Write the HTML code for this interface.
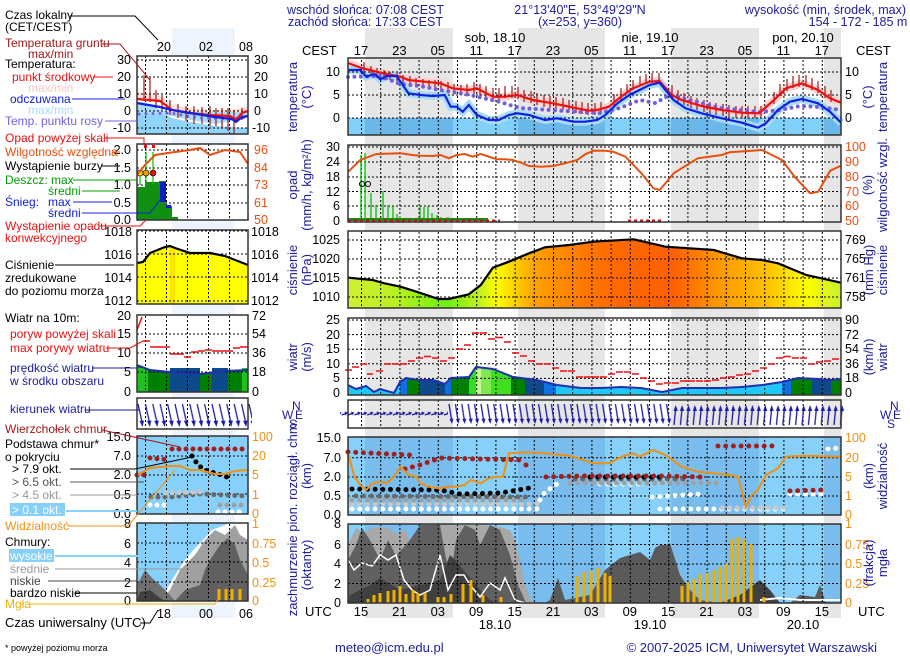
<!DOCTYPE html>
<html><head><meta charset="utf-8"><style>
body{margin:0;background:#fff}
svg{display:block;font-family:"Liberation Sans",sans-serif}
.b{fill:#1c1c9c}
</style></head><body>
<svg width="910" height="660" viewBox="0 0 910 660" xmlns="http://www.w3.org/2000/svg">
<defs>
<pattern id="vg" patternUnits="userSpaceOnUse" x="361" y="0" width="19.2" height="4"><rect x="0" y="0" width="1" height="2" fill="#000"/></pattern>
<pattern id="vgm" patternUnits="userSpaceOnUse" x="145" y="0" width="21" height="4"><rect x="0" y="0" width="1" height="2" fill="#000"/></pattern>
<pattern id="we" patternUnits="userSpaceOnUse" x="348" y="400" width="6.4" height="28"><path d="M0 15 L5.5 13" stroke="#1c1ca8" stroke-width="1.3"/><path d="M6.4 12.5 L3 11.5 L4 15.5Z" fill="#1c1ca8"/></pattern>
<pattern id="ws" patternUnits="userSpaceOnUse" x="448" y="400" width="6.4" height="28"><path d="M1 4 L3.5 20" stroke="#1c1ca8" stroke-width="1.3"/><path d="M4 24 L1.5 19 L5.5 18.5Z" fill="#1c1ca8"/></pattern>
<pattern id="wn" patternUnits="userSpaceOnUse" x="672" y="400" width="6.4" height="28"><path d="M2 25 L3.5 10" stroke="#1c1ca8" stroke-width="1.3"/><path d="M3.7 5 L1.5 11 L5.8 11Z" fill="#1c1ca8"/></pattern>
<pattern id="wm" patternUnits="userSpaceOnUse" x="137" y="398" width="7.4" height="31"><path d="M1 6 L5 24" stroke="#1c1ca8" stroke-width="1.3"/><path d="M5.5 29 L2.5 23 L7 22.5Z" fill="#1c1ca8"/></pattern>
<linearGradient id="pg" x1="348" x2="841" y1="0" y2="0" gradientUnits="userSpaceOnUse">
<stop offset="0" stop-color="#d0f030"/><stop offset="0.1" stop-color="#b8f020"/><stop offset="0.2" stop-color="#70f010"/><stop offset="0.27" stop-color="#c8f020"/><stop offset="0.3" stop-color="#ffff00"/><stop offset="0.38" stop-color="#ffa000"/><stop offset="0.48" stop-color="#ff7800"/><stop offset="0.55" stop-color="#ff6800"/><stop offset="0.66" stop-color="#ff6000"/><stop offset="0.75" stop-color="#ff9800"/><stop offset="0.85" stop-color="#ffc000"/><stop offset="0.93" stop-color="#ffff00"/><stop offset="1" stop-color="#c8f030"/>
</linearGradient>
<clipPath id="wclip"><polygon points="348,395 348,385 356,389 366,386 374,392 380,389 394,393 400,382 406,378 419,380 433,380 445,384 451,378 469,377 476,367 493,369 513,377 537,380 557,385 581,388 601,388 621,387 641,388 662,392 682,388 702,388 722,388 742,387 762,385 782,382 798,378 818,379 830,380 841,379 841,395"/></clipPath>
</defs>

<g fill="#e6e6e6"><rect x="365" y="28" width="88" height="590"/><rect x="518" y="28" width="87" height="590"/><rect x="671" y="28" width="88" height="590"/><rect x="824" y="28" width="17" height="590"/></g>
<rect x="172" y="28" width="63" height="590" fill="#eef4fd"/>

<g class="b" font-size="12.5">
<text x="287" y="14">wschód słońca: 07:08 CEST</text>
<text x="288" y="26">zachód słońca: 17:33 CEST</text>
<text x="580" y="14" text-anchor="middle">21°13'40"E, 53°49'29"N</text>
<text x="580" y="26" text-anchor="middle">(x=253,  y=360)</text>
<text x="906" y="14" text-anchor="end">wysokość (min, środek, max)</text>
<text x="858" y="26" text-anchor="middle">154 - 172 - 185 m</text>
</g>
<g font-size="13" fill="#000">
<text x="495" y="42" text-anchor="middle">sob, 18.10</text>
<text x="650" y="42" text-anchor="middle">nie, 19.10</text>
<text x="803" y="42" text-anchor="middle">pon, 20.10</text>
<text x="302" y="55">CEST</text><text x="856" y="55">CEST</text>
<g text-anchor="middle">
<text x="361" y="55">17</text><text x="399.4" y="55">23</text><text x="437.8" y="55">05</text><text x="476.2" y="55">11</text><text x="514.6" y="55">17</text><text x="553" y="55">23</text><text x="591.4" y="55">05</text><text x="629.8" y="55">11</text><text x="668.2" y="55">17</text><text x="706.6" y="55">23</text><text x="745" y="55">05</text><text x="783.4" y="55">11</text><text x="821.8" y="55">17</text>
<text x="361" y="616">15</text><text x="399.4" y="616">21</text><text x="437.8" y="616">03</text><text x="476.2" y="616">09</text><text x="514.6" y="616">15</text><text x="553" y="616">21</text><text x="591.4" y="616">03</text><text x="629.8" y="616">09</text><text x="668.2" y="616">15</text><text x="706.6" y="616">21</text><text x="745" y="616">03</text><text x="783.4" y="616">09</text><text x="821.8" y="616">15</text>
<text x="495" y="629">18.10</text><text x="650" y="629">19.10</text><text x="803" y="629">20.10</text>
</g>
<text x="305" y="616">UTC</text><text x="858" y="616">UTC</text>
</g>

<!-- TEMP -->
<rect x="348" y="58" width="493" height="77" fill="#fff"/>
<g fill="#e6e6e6"><rect x="365" y="58" width="88" height="77"/><rect x="518" y="58" width="87" height="77"/><rect x="671" y="58" width="88" height="77"/><rect x="824" y="58" width="17" height="77"/></g>
<rect x="348" y="118" width="493" height="17" fill="#80d0fa"/>
<g fill="#6ab8ea"><rect x="365" y="118" width="88" height="17"/><rect x="518" y="118" width="87" height="17"/><rect x="671" y="118" width="88" height="17"/><rect x="824" y="118" width="17" height="17"/></g>
<polyline fill="none" stroke="#fcd2d2" stroke-width="8" points="348,63 361.5,68 380.4,72.7 400.5,76.7 408.5,80 424.6,81.7 440.6,83.3 452.7,88.3 468.8,90 476.8,88.3 492.9,96.7 504.9,96.7 517,95 533,100 553,103.3 569,106.7 589,110.7 597,110 609,106.7 621,96.7 633,88.3 649.5,81.7 659.5,81 671.6,95 681.6,100 701.7,106 721.7,110 741.8,112.7 759,113.3 774,100 786,88.3 802,83.3 818,90 830,98.3 841,102.7"/>
<polyline fill="none" stroke="#a8dcfa" stroke-width="8" points="348.3,70 360.3,70 366.3,76.7 374.4,74 380.4,79.3 386.4,76 396.5,76 408.5,93.3 420.6,95 432.6,96 444.7,95 450.7,106.7 456.7,106.7 462.7,111.7 468.8,105 476.8,115 488.8,120 498.9,120 508.9,115 517,113.3 529,115 545,120 557,118.3 573.2,121.7 585.2,121.7 597.3,120 605.3,115 617.3,103.3 629.4,95 649.5,85 659.5,82.7 673.6,100 685.6,108.3 701.7,113.3 721.8,118.3 741.8,122.7 757.9,127.7 765.9,123.3 778,110 790,101.7 802,99 818,103.3 830,111.7 841,122.7"/>
<rect x="348" y="58" width="493" height="77" fill="url(#vg)"/>
<g stroke="#000" stroke-dasharray="2,2" stroke-width="1"><line x1="348" y1="72" x2="841" y2="72"/><line x1="348" y1="95" x2="841" y2="95"/><line x1="348" y1="118" x2="841" y2="118"/></g>
<path stroke="#a01818" stroke-width="1.2" fill="none" d="M364 62v10M371 66v10M377 68v10M384 70v10M390 72v8M397 73v8M403 75v8M410 76v8M416 78v8M423 79v8M429 80v8M435 80v8M441 81v8M448 82v10M454 84v10M461 85v10M467 84v10M474 82v12M480 84v12M486 86v12M493 88v12M499 88v12M505 86v12M512 86v12M518 87v12M524 90v12M531 91v12M537 93v12M544 95v12M550 96v12M556 97v12M563 98v12M569 100v12M576 101v12M582 102v12M588 103v12M595 103v12M601 102v12M614 94v12M621 88v12M627 84v10M633 80v10M640 76v10M646 74v10M652 73v10M659 73v10M672 85v12M678 90v12M684 93v12M691 96v12M697 98v12M704 100v12M710 102v12M716 103v12M723 104v12M729 105v12M736 106v12M742 106v12M748 106v12M755 106v12M761 106v12M774 92v12M780 84v12M787 79v12M793 76v12M799 75v12M806 75v12M812 78v12M818 81v12M825 86v12M831 90v12"/>
<polyline fill="none" stroke="#7060e0" stroke-width="4" stroke-linecap="round" stroke-dasharray="0 6.4" points="348,77 380,76 400,84 420,86 440,90 470,95 500,102 520,108 550,110 580,112 600,113 620,108 640,100 655,103 670,95 690,100 720,108 760,112 780,110 800,106 820,107 841,110"/>
<polyline fill="none" stroke="#ee1010" stroke-width="2.2" points="348,63 361.5,68 380.4,72.7 400.5,76.7 408.5,80 424.6,81.7 440.6,83.3 452.7,88.3 468.8,90 476.8,88.3 492.9,96.7 504.9,96.7 517,95 533,100 553,103.3 569,106.7 589,110.7 597,110 609,106.7 621,96.7 633,88.3 649.5,81.7 659.5,81 671.6,95 681.6,100 701.7,106 721.7,110 741.8,112.7 759,113.3 774,100 786,88.3 802,83.3 818,90 830,98.3 841,102.7"/>
<polyline fill="none" stroke="#1020e0" stroke-width="2.2" points="348.3,70 360.3,70 366.3,76.7 374.4,74 380.4,79.3 386.4,76 396.5,76 408.5,93.3 420.6,95 432.6,96 444.7,95 450.7,106.7 456.7,106.7 462.7,111.7 468.8,105 476.8,115 488.8,120 498.9,120 508.9,115 517,113.3 529,115 545,120 557,118.3 573.2,121.7 585.2,121.7 597.3,120 605.3,115 617.3,103.3 629.4,95 649.5,85 659.5,82.7 673.6,100 685.6,108.3 701.7,113.3 721.8,118.3 741.8,122.7 757.9,127.7 765.9,123.3 778,110 790,101.7 802,99 818,103.3 830,111.7 841,122.7"/>
<rect x="348" y="58" width="493" height="77" fill="none" stroke="#333" stroke-width="1.5"/>
<g font-size="12.5" fill="#000"><text x="340" y="76" text-anchor="end">10</text><text x="340" y="99" text-anchor="end">5</text><text x="340" y="122" text-anchor="end">0</text><text x="845" y="76">10</text><text x="845" y="99">5</text><text x="845" y="122">0</text></g>

<!-- PRECIP -->
<rect x="348" y="145" width="493" height="77" fill="#fff"/>
<g fill="#e6e6e6"><rect x="365" y="145" width="88" height="77"/><rect x="518" y="145" width="87" height="77"/><rect x="671" y="145" width="88" height="77"/><rect x="824" y="145" width="17" height="77"/></g>
<rect x="348" y="145" width="493" height="77" fill="url(#vg)"/>
<g stroke="#000" stroke-dasharray="2,2"><line x1="348" y1="147" x2="841" y2="147"/><line x1="348" y1="162" x2="841" y2="162"/><line x1="348" y1="177" x2="841" y2="177"/><line x1="348" y1="191.5" x2="841" y2="191.5"/><line x1="348" y1="206" x2="841" y2="206"/></g>
<path stroke="#00c000" stroke-width="1.3" d="M361 221V155M365 221V153M371 221V193M376 221V205M383 221V191M388 221V205M393 221V206M397 221V214M400 221V216M407 221V219M420 221V206M424 221V207M428 221V206M432 221V213M437 221V215M441 221V217M448 221V217M452 221V218M456 221V218M460 221V218M465 221V219M470 221V219M475 221V219"/>
<rect x="348" y="218" width="140" height="3" fill="#109010"/>
<polyline fill="none" stroke="#d01010" stroke-width="3" stroke-dasharray="3 3" points="348,221 500,221"/>
<polyline fill="none" stroke="#d01010" stroke-width="3" stroke-dasharray="3 3" points="628,221 662,221"/>
<circle cx="362" cy="184" r="2.5" fill="none" stroke="#000"/><circle cx="368" cy="184" r="2.5" fill="none" stroke="#000"/>
<polyline fill="none" stroke="#e85010" stroke-width="2" points="348.3,171.7 360.3,160 376.4,154 400.5,153.3 412.5,155 420.6,155.7 432.6,156 440.6,155 448.7,158.3 456.7,155 464.7,154 472.8,156.7 480.8,154 488.8,156.7 496.9,159.3 504.9,159.3 512.9,160 521,162.7 529,166 541,166.7 553.1,166 565.1,163.3 577.2,160 585.2,154.3 593.3,150.7 605.3,150.7 613.3,151.7 625.4,156.7 641.4,173.3 653.5,188.3 659.5,190 665.5,183.3 673.6,173.3 697.7,158.3 721.7,155 729.8,152.3 761.9,150 782,160 794.5,176.7 810.1,193.3 818.2,191.7 830.2,170.7 841,165.7"/>
<rect x="348" y="145" width="493" height="77" fill="none" stroke="#333" stroke-width="1.5"/>
<g font-size="12.5"><g fill="#000" text-anchor="end"><text x="340" y="151">30</text><text x="340" y="166">24</text><text x="340" y="181">18</text><text x="340" y="196">12</text><text x="340" y="210">6</text><text x="340" y="225">0</text></g>
<g fill="#e85010"><text x="845" y="151">100</text><text x="845" y="166">90</text><text x="845" y="181">80</text><text x="845" y="196">70</text><text x="845" y="210">60</text><text x="845" y="225">50</text></g></g>

<!-- PRESSURE -->
<rect x="348" y="231" width="493" height="77" fill="#fff"/>
<polygon fill="url(#pg)" points="348,308 348.3,277.7 372.4,280 384.4,283.3 400.5,286.7 416.5,291.7 438.6,299 448.7,299 468.8,294.3 480.8,285 492.9,267.7 508.9,261.7 529,253.3 545,247.3 569.2,245 593.3,241.7 633.4,239.3 665.5,246.7 689.6,248.3 713.7,250 741.8,258.3 761.9,260 778,263.3 806.1,275 841,282.7 841,308"/>
<rect x="348" y="231" width="493" height="77" fill="url(#vg)"/>
<g stroke="#000" stroke-dasharray="2,2"><line x1="348" y1="240" x2="841" y2="240"/><line x1="348" y1="259" x2="841" y2="259"/><line x1="348" y1="278" x2="841" y2="278"/><line x1="348" y1="297" x2="841" y2="297"/></g>
<polyline fill="none" stroke="#000" stroke-width="2.2" points="348.3,277.7 372.4,280 384.4,283.3 400.5,286.7 416.5,291.7 438.6,299 448.7,299 468.8,294.3 480.8,285 492.9,267.7 508.9,261.7 529,253.3 545,247.3 569.2,245 593.3,241.7 633.4,239.3 665.5,246.7 689.6,248.3 713.7,250 741.8,258.3 761.9,260 778,263.3 806.1,275 841,282.7"/>
<rect x="348" y="231" width="493" height="77" fill="none" stroke="#333" stroke-width="1.5"/>
<g font-size="12.5" fill="#000"><g text-anchor="end"><text x="340" y="244">1025</text><text x="340" y="263">1020</text><text x="340" y="282">1015</text><text x="340" y="301">1010</text></g><text x="845" y="244">769</text><text x="845" y="263">765</text><text x="845" y="282">761</text><text x="845" y="301">758</text></g>

<!-- WIND -->
<rect x="348" y="318" width="493" height="77" fill="#fff"/>
<g fill="#e6e6e6"><rect x="365" y="318" width="88" height="77"/><rect x="518" y="318" width="87" height="77"/><rect x="671" y="318" width="88" height="77"/><rect x="824" y="318" width="17" height="77"/></g>
<g clip-path="url(#wclip)"><rect x="348" y="360" width="493" height="35" fill="#20c8f8"/>
<rect x="400" y="360" width="7" height="35" fill="#1070e0"/><rect x="407" y="360" width="12" height="35" fill="#008000"/><rect x="419" y="360" width="26" height="35" fill="#0c4a8c"/><rect x="445" y="360" width="6" height="35" fill="#1070e0"/><rect x="451" y="360" width="18" height="35" fill="#008000"/><rect x="469" y="360" width="7" height="35" fill="#30e020"/><rect x="476" y="360" width="5" height="35" fill="#c8f890"/><rect x="481" y="360" width="10" height="35" fill="#80e850"/><rect x="491" y="360" width="20" height="35" fill="#40e020"/><rect x="511" y="360" width="14" height="35" fill="#008000"/><rect x="525" y="360" width="19" height="35" fill="#0c4a8c"/><rect x="544" y="360" width="12" height="35" fill="#1070e0"/><rect x="782" y="360" width="9" height="35" fill="#1070e0"/><rect x="791" y="360" width="21" height="35" fill="#008000"/><rect x="812" y="360" width="19" height="35" fill="#0c4a8c"/><rect x="831" y="360" width="10" height="35" fill="#008000"/></g>
<rect x="348" y="318" width="493" height="77" fill="url(#vg)"/>
<g stroke="#000" stroke-dasharray="2,2"><line x1="348" y1="320" x2="841" y2="320"/><line x1="348" y1="334.6" x2="841" y2="334.6"/><line x1="348" y1="349.2" x2="841" y2="349.2"/><line x1="348" y1="363.8" x2="841" y2="363.8"/><line x1="348" y1="378.4" x2="841" y2="378.4"/></g>
<polyline fill="none" stroke="#2030b0" stroke-width="2" points="348,385 356,389 366,386 374,392 380,389 394,393 400,382 406,378 419,380 433,380 445,384 451,378 469,377 476,367 493,369 513,377 537,380 557,385 581,388 601,388 621,387 641,388 662,392 682,388 702,388 722,388 742,387 762,385 782,382 798,378 818,379 830,380 841,379"/>
<path stroke="#e81010" stroke-width="1.5" fill="none" d="M345 370h7M352 367h7M360 364h7M367 374h6M376 371h7M384 364h7M392 364h7M400 364h7M408 361h7M416 358h7M424 356.5h7M432 358h7M440 361h7M448 358h7M456 349h7M464 345h7M472 333h7M480 333h7M488 339h7M496 337.5h7M504 342h7M512 353h7M520 356h7M528 361h7M536 364h7M544 364h7M552 368h7M560 371h7M568 371h7M576 377h7M584 377h7M592 377h7M600 377h7M608 374h7M616 372h7M624 372h7M632 374h7M640 378h7M648 381h7M656 384h7M664 383h7M672 383h7M680 381h7M688 381h7M696 381h7M704 381h7M712 380h7M720 378h7M728 377h7M736 375h7M744 374h7M752 371h7M760 368h7M768 364h7M776 358h7M784 356.5h7M792 358h7M800 358h7M808 364h7M816 362h7M824 361h7M832 359h7"/>
<rect x="348" y="318" width="493" height="77" fill="none" stroke="#333" stroke-width="1.5"/>
<g font-size="12.5" fill="#000"><g text-anchor="end"><text x="340" y="324">25</text><text x="340" y="339">20</text><text x="340" y="353">15</text><text x="340" y="368">10</text><text x="340" y="382">5</text><text x="340" y="397">0</text></g><text x="845" y="324">90</text><text x="845" y="339">72</text><text x="845" y="353">54</text><text x="845" y="368">36</text><text x="845" y="382">18</text><text x="845" y="397">0</text></g>

<!-- WIND DIR -->
<rect x="348" y="400" width="493" height="28" fill="#fff"/>
<g fill="#e6e6e6"><rect x="365" y="400" width="88" height="28"/><rect x="518" y="400" width="87" height="28"/><rect x="671" y="400" width="88" height="28"/><rect x="824" y="400" width="17" height="28"/></g>
<rect x="348" y="400" width="493" height="28" fill="url(#vg)"/>
<rect x="340" y="401" width="108" height="26" fill="url(#we)"/>
<rect x="448" y="401" width="224" height="26" fill="url(#ws)"/>
<rect x="672" y="401" width="172" height="26" fill="url(#wn)"/>
<rect x="348" y="400" width="493" height="28" fill="none" stroke="#333" stroke-width="1.5"/>
<g class="b" font-size="12"><text x="282" y="419">W</text><text x="292" y="410">N</text><text x="295" y="419">E</text><text x="289" y="428">S</text><text x="880" y="419">W</text><text x="890" y="410">N</text><text x="893" y="419">E</text><text x="887" y="428">S</text></g>

<!-- CLOUD BASE -->
<rect x="348" y="437" width="493" height="78" fill="#87d0fa"/>
<g fill="#78bdee"><rect x="365" y="437" width="88" height="78"/><rect x="518" y="437" width="87" height="78"/><rect x="671" y="437" width="88" height="78"/><rect x="824" y="437" width="17" height="78"/></g>
<rect x="348" y="437" width="493" height="78" fill="url(#vg)"/>
<g stroke="#000" stroke-dasharray="2,2"><line x1="348" y1="457.7" x2="841" y2="457.7"/><line x1="348" y1="477" x2="841" y2="477"/><line x1="348" y1="496" x2="841" y2="496"/></g>
<g fill="none" stroke-linecap="round" stroke-dasharray="0 7.7" stroke-width="5">
<polyline stroke="#fff" points="352,509 540,509"/>
<polyline stroke="#fff" points="540,500 545,492 560,482"/>
<polyline stroke="#fff" points="600,484 645,484"/>
<polyline stroke="#fff" points="652,497 700,494"/>
<polyline stroke="#fff" points="660,509 790,509"/>
<polyline stroke="#fff" points="790,494 822,494"/>
<polyline stroke="#fff" points="828,449 841,448"/>
<polyline stroke="#c8c8c8" points="352,504 540,504"/>
<polyline stroke="#c8c8c8" points="722,508 790,508"/>
<polyline stroke="#a0a0a0" points="352,500 525,500"/>
<polyline stroke="#a0a0a0" points="570,483 720,483"/>
<polyline stroke="#686868" points="356,496 530,497"/>
<polyline stroke="#686868" points="575,479 690,479"/>
<polyline stroke="#000" points="352,489 440,490 460,494 500,493 530,488"/>
<polyline stroke="#000" points="590,477 660,477"/>
<polyline stroke="#a02020" points="348,452 410,455"/>
<polyline stroke="#a02020" points="405,469 420,465 440,458 520,460"/>
<polyline stroke="#a02020" points="526,465 532,468"/>
<polyline stroke="#a02020" points="546,477 580,476 660,476 700,477"/>
<polyline stroke="#a02020" points="718,446 778,446"/>
<polyline stroke="#a02020" points="790,491 822,490"/>
</g>
<polyline fill="none" stroke="#f09010" stroke-width="2" points="348.3,453.3 354.3,476.7 360.3,485 366.3,490 372.4,483.3 380.4,481.7 386.4,483.3 392.4,478.3 400.5,466.7 408.5,475 416.5,476.7 420.6,483.3 428.6,486.7 438.6,488.3 448.7,486.7 456.7,486.7 464.7,485 470.8,480 480.8,483.3 488.8,478.3 496.9,476.7 502.9,476.7 508.9,453.3 525,452.3 545,453.3 569.2,455.7 593.3,463.3 609.3,463.3 621.4,456.7 633.4,453.3 639.4,456.7 653.5,450 665.5,455 681.6,466.7 697.7,471.7 713.7,473.3 729.8,475 737.8,476.7 745.9,506.7 751.9,495 757.9,490 766,475 778,468.3 786,456.7 802,455.7 841,456.7"/>
<rect x="348" y="437" width="493" height="78" fill="none" stroke="#333" stroke-width="1.5"/>
<g font-size="12.5"><g fill="#000" text-anchor="end"><text x="341" y="442">15.0</text><text x="341" y="462">7.0</text><text x="341" y="481">2.0</text><text x="341" y="500">0.5</text><text x="341" y="519">0.0</text></g>
<g fill="#f09010"><text x="845" y="442">100</text><text x="845" y="462">20</text><text x="845" y="481">5</text><text x="845" y="500">1</text><text x="845" y="519">0</text></g></g>

<!-- CLOUD COVER -->
<rect x="348" y="524" width="493" height="79" fill="#87d0fa"/>
<g fill="#78bdee"><rect x="365" y="524" width="88" height="79"/><rect x="518" y="524" width="87" height="79"/><rect x="671" y="524" width="88" height="79"/><rect x="824" y="524" width="17" height="79"/></g>
<polygon fill="#a8a8a8" points="348,603 348,545 356,528 364,533 372,528 380,527 388,528 396,534 404,529 410,540 420,529 440,525 460,525 480,525 500,527 510,530 515,540 520,560 525,585 532,603"/>
<polygon fill="#606060" points="348,603 348,560 356,545 362,528 370,540 380,560 388,540 396,556 410,540 420,525 440,525 450,580 456,540 465,525 475,530 480,545 490,525 500,530 510,555 518,585 526,603"/>
<polygon fill="#5a5a5a" points="545,603 550,600 558,578 565,600 590,595 605,570 620,558 640,552 650,560 655,548 660,545 666,545 670,543 680,575 690,590 700,600 720,603"/>
<polygon fill="#5a5a5a" points="790,603 800,595 815,597 820,585 826,603"/>
<polygon fill="#404040" points="348,603 350,595 370,585 380,578 400,590 420,585 440,580 450,555 455,560 470,578 480,590 490,600 500,603"/>
<polygon fill="#404040" points="720,603 740,595 760,580 770,590 780,603"/>
<polyline fill="none" stroke="#fff" stroke-width="1.5" points="348,560 354,570 362,563 372,566 380,555 388,560 396,555 404,580 412,590 420,595 430,590 440,555 448,590 456,575 464,575 470,585 480,597 490,583 500,590 505,578 515,600 525,603"/>
<polyline fill="none" stroke="#ffffff" stroke-width="2" points="760,600 780,598 800,600 841,600"/>
<rect x="348" y="524" width="493" height="79" fill="url(#vg)"/>
<g stroke="#000" stroke-dasharray="2,2"><line x1="348" y1="544.5" x2="841" y2="544.5"/><line x1="348" y1="564" x2="841" y2="564"/><line x1="348" y1="583.5" x2="841" y2="583.5"/></g>
<path stroke="#f0b000" stroke-width="3" d="M368 603v-4M374 603v-8M380 603v-10M388 603v-12M394 603v-13M400 603v-17M406 603v-9M413 603v-13M418 603v-10M425 603v-10M438 603v-6M444 603v-6M451 603v-9M463 603v-19M471 603v-23M483 603v-8M501 603v-6M577 603v-27M584 603v-31M591 603v-32M598 603v-35M605 603v-30M610 603v-27M682 603v-17M688 603v-21M694 603v-24M700 603v-29M707 603v-30M714 603v-33M720 603v-36M726 603v-39M732 603v-64M738 603v-66M744 603v-64M751 603v-59M764 603v-6"/>
<rect x="348" y="524" width="493" height="79" fill="none" stroke="#333" stroke-width="1.5"/>
<g font-size="12.5"><g fill="#000" text-anchor="end"><text x="341" y="528">8</text><text x="341" y="549">6</text><text x="341" y="568">4</text><text x="341" y="588">2</text><text x="341" y="607">0</text></g>
<g fill="#f09010"><text x="845" y="528">1</text><text x="845" y="549">0.75</text><text x="845" y="568">0.5</text><text x="845" y="588">0.25</text><text x="845" y="607">0</text></g></g>

<g class="b" font-size="13" text-anchor="middle">
<text transform="translate(297,97) rotate(-90)">temperatura</text><text transform="translate(311,97) rotate(-90)">(°C)</text>
<text transform="translate(872,97) rotate(-90)">(°C)</text><text transform="translate(887,97) rotate(-90)">temperatura</text>
<text transform="translate(297,185) rotate(-90)">opad</text><text transform="translate(311,185) rotate(-90)">(mm/h, kg/m²/h)</text>
<text transform="translate(872,185) rotate(-90)">(%)</text><text transform="translate(887,185) rotate(-90)">wilgotność wzgl.</text>
<text transform="translate(297,270) rotate(-90)">ciśnienie</text><text transform="translate(311,270) rotate(-90)">(hPa)</text>
<text transform="translate(873,270) rotate(-90)">(mm Hg)</text><text transform="translate(887,270) rotate(-90)">ciśnienie</text>
<text transform="translate(297,357) rotate(-90)">wiatr</text><text transform="translate(311,357) rotate(-90)">(m/s)</text>
<text transform="translate(873,357) rotate(-90)">(km/h)</text><text transform="translate(887,357) rotate(-90)">wiatr</text>
<text transform="translate(297,518) rotate(-90)">zachmurzenie  pion. rozciągł. chm.</text>
<text transform="translate(311,476) rotate(-90)">(km)</text><text transform="translate(311,565) rotate(-90)">(oktanty)</text>
<text transform="translate(873,476) rotate(-90)">(km)</text><text transform="translate(887,476) rotate(-90)">widzialność</text>
<text transform="translate(873,563) rotate(-90)">(frakcja)</text><text transform="translate(887,563) rotate(-90)">mgła</text>
</g>

<g class="b" font-size="13"><text x="335" y="652">meteo@icm.edu.pl</text><text x="877" y="652" text-anchor="end">© 2007-2025 ICM, Uniwersytet Warszawski</text></g>
<text x="5" y="651" font-size="9" fill="#000">* powyżej poziomu morza</text>

<!-- LEFT MINI -->
<g font-size="12.5" fill="#000" text-anchor="middle"><text x="164" y="51">20</text><text x="206" y="51">02</text><text x="246" y="51">08</text><text x="164" y="618">18</text><text x="206" y="618">00</text><text x="246" y="618">06</text></g>
<rect x="137" y="56" width="111" height="78" fill="#fff"/>
<polygon fill="#fde0d8" points="137,92 160,96 172,104 190,108 210,110 230,110 248,106 248,111 236,120 230,116 210,115 190,113 172,110 160,101 137,99"/>
<polygon fill="#90d4fa" points="137,112 160,112 172,118 190,122 215,126 248,128 248,134 137,134"/>
<polygon fill="#a8dcfa" points="137,102 150,104 160,110 172,112 248,112 248,118 215,124 190,120 172,116 160,114 137,114"/>
<rect x="137" y="56" width="111" height="78" fill="url(#vgm)"/>
<g stroke="#000" stroke-dasharray="2,2"><line x1="137" y1="60" x2="248" y2="60"/><line x1="137" y1="77" x2="248" y2="77"/><line x1="137" y1="94" x2="248" y2="94"/><line x1="137" y1="111" x2="248" y2="111"/><line x1="137" y1="128" x2="248" y2="128"/></g>
<path stroke="#a01818" stroke-width="1.2" d="M144 75v25M150 78v24M156 90v18M162 95v15M170 100v15M178 104v14M186 106v15M194 106v18M202 107v17M210 106v20M216 108v18M222 108v20M228 108v23M234 110v24M242 108v12"/>
<polyline fill="none" stroke="#7060e0" stroke-width="3" stroke-linecap="round" stroke-dasharray="0 7" points="139,114 170,113 200,118 230,119 248,117"/>
<polyline fill="none" stroke="#ee1010" stroke-width="2.2" points="137,99 160,101 172,110 190,113 210,115 230,116 236,120 242,113 248,111"/>
<polyline fill="none" stroke="#1020e0" stroke-width="2.2" points="137,103 160,107 172,110 190,113 215,117 232,119 236,122 242,117 248,116"/>
<rect x="137" y="56" width="111" height="78" fill="none" stroke="#333" stroke-width="1.5"/>
<g font-size="12.5" fill="#000"><g text-anchor="end"><text x="131" y="64">30</text><text x="131" y="81">20</text><text x="131" y="98">10</text><text x="131" y="115">0</text><text x="131" y="132">-10</text></g><text x="254" y="64">30</text><text x="254" y="81">20</text><text x="254" y="98">10</text><text x="254" y="115">0</text><text x="252" y="132">-10</text></g>
<rect x="137" y="144" width="111" height="76" fill="#fff"/>
<rect x="137" y="144" width="111" height="76" fill="url(#vgm)"/>
<g stroke="#000" stroke-dasharray="2,2"><line x1="137" y1="150" x2="248" y2="150"/><line x1="137" y1="168" x2="248" y2="168"/><line x1="137" y1="185" x2="248" y2="185"/><line x1="137" y1="203" x2="248" y2="203"/></g>
<rect x="137" y="187" width="8" height="33" fill="#109010"/><rect x="145" y="182" width="14" height="38" fill="#109010"/><rect x="159" y="181" width="7" height="39" fill="#109010"/><rect x="166" y="206" width="6" height="14" fill="#109010"/><rect x="172" y="217" width="6" height="3" fill="#109010"/>
<rect x="160" y="182" width="6" height="20" fill="#1020c0"/><rect x="166" y="205" width="5" height="3" fill="#1020c0"/>
<path stroke="#00c000" stroke-width="1.2" d="M146 185V152M153 185V152M140 185V175"/>
<rect x="144" y="145" width="3" height="3" fill="#e01010"/><rect x="152" y="145" width="3" height="3" fill="#e01010"/>
<circle cx="140" cy="173" r="3" fill="#ffd800" stroke="#000" stroke-width=".6"/><circle cx="146" cy="173" r="3" fill="#f0a000" stroke="#000" stroke-width=".6"/><circle cx="153" cy="173" r="3" fill="#e01010" stroke="#000" stroke-width=".6"/>
<polyline fill="none" stroke="#e85010" stroke-width="2" points="137,175 145,165 155,155 175,152 190,150 200,148 210,155 225,150 240,152 248,164"/>
<rect x="137" y="144" width="111" height="76" fill="none" stroke="#333" stroke-width="1.5"/>
<g font-size="12.5"><g fill="#000" text-anchor="end"><text x="131" y="154">2.0</text><text x="131" y="172">1.5</text><text x="131" y="189">1.0</text><text x="131" y="207">0.5</text><text x="131" y="224">0.0</text></g><g fill="#e85010"><text x="254" y="154">96</text><text x="254" y="172">84</text><text x="254" y="189">73</text><text x="254" y="207">61</text><text x="254" y="224">50</text></g></g>
<rect x="137" y="230" width="111" height="74" fill="#fff"/>
<polygon fill="#ffff00" points="137,304 137,263 143,262 150,253 160,249 165,247 170,246 175,248 190,253 210,253 225,256 248,265 248,304"/>
<rect x="170" y="246" width="5" height="58" fill="#ffd000" opacity=".6"/>
<rect x="137" y="230" width="111" height="74" fill="url(#vgm)"/>
<g stroke="#000" stroke-dasharray="2,2"><line x1="137" y1="231" x2="248" y2="231"/><line x1="137" y1="254" x2="248" y2="254"/><line x1="137" y1="277" x2="248" y2="277"/><line x1="137" y1="301" x2="248" y2="301"/></g>
<polyline fill="none" stroke="#000" stroke-width="2.2" points="137,263 143,262 150,253 160,249 165,247 170,246 175,248 190,253 210,253 225,256 248,265"/>
<rect x="137" y="230" width="111" height="74" fill="none" stroke="#333" stroke-width="1.5"/>
<g font-size="12.5" fill="#000"><g text-anchor="end"><text x="132" y="236">1018</text><text x="132" y="259">1016</text><text x="132" y="282">1014</text><text x="132" y="305">1012</text></g><text x="251" y="236">1018</text><text x="251" y="259">1016</text><text x="251" y="282">1014</text><text x="251" y="305">1012</text></g>
<rect x="137" y="315" width="111" height="77" fill="#fff"/>
<polygon fill="#008000" points="137,392 137,365 150,370 180,373 200,374 225,371 248,370 248,392"/>
<rect x="137" y="368" width="11" height="24" fill="#20c020"/><rect x="170" y="368" width="30" height="24" fill="#0c4a8c"/><rect x="212" y="368" width="16" height="24" fill="#0c4a8c"/><rect x="242" y="368" width="6" height="24" fill="#20c020"/>
<rect x="137" y="315" width="111" height="77" fill="url(#vgm)"/>
<g stroke="#000" stroke-dasharray="2,2"><line x1="137" y1="334" x2="248" y2="334"/><line x1="137" y1="353" x2="248" y2="353"/><line x1="137" y1="372" x2="248" y2="372"/></g>
<polyline fill="none" stroke="#2030b0" stroke-width="2" points="137,365 150,370 180,373 200,374 225,371 248,370"/>
<path stroke="#e81010" stroke-width="1.5" fill="none" d="M137 330l5-13M143 341h7M150 347h7M157 347h7M164 347h6M170 354h7M177 354h7M184 357h7M191 352h7M198 351h7M205 350h7M212 351h7M219 351h7M226 351h7M233 348h7M240 347h8"/>
<rect x="137" y="315" width="111" height="77" fill="none" stroke="#333" stroke-width="1.5"/>
<g font-size="12.5" fill="#000"><g text-anchor="end"><text x="131" y="320">20</text><text x="131" y="338">15</text><text x="131" y="357">10</text><text x="131" y="376">5</text><text x="131" y="396">0</text></g><text x="252" y="320">72</text><text x="252" y="338">54</text><text x="252" y="357">36</text><text x="252" y="376">18</text><text x="252" y="396">0</text></g>
<rect x="137" y="398" width="111" height="31" fill="#fff"/>
<rect x="137" y="398" width="111" height="31" fill="url(#vgm)"/>
<rect x="137" y="399" width="115" height="29" fill="url(#wm)"/>
<rect x="137" y="398" width="111" height="31" fill="none" stroke="#333" stroke-width="1.5"/>
<rect x="137" y="436" width="111" height="78" fill="#87d0fa"/>
<rect x="137" y="436" width="111" height="78" fill="url(#vgm)"/>
<g stroke="#000" stroke-dasharray="2,2"><line x1="137" y1="456" x2="248" y2="456"/><line x1="137" y1="475" x2="248" y2="475"/><line x1="137" y1="494" x2="248" y2="494"/></g>
<g fill="none" stroke-linecap="round" stroke-dasharray="0 7" stroke-width="5">
<polyline stroke="#a02020" points="172,449 248,449"/><polyline stroke="#a02020" points="150,458 170,460"/><polyline stroke="#a02020" points="137,475 145,475"/>
<polyline stroke="#000" points="192,456 198,465 205,470 215,473 230,478"/>
<polyline stroke="#686868" points="151,497 170,497 200,494 248,496"/>
<polyline stroke="#c8c8c8" points="165,493 200,492"/><polyline stroke="#a0a0a0" points="220,505 248,505"/>
<polyline stroke="#fff" points="150,505 170,505"/><polyline stroke="#fff" points="218,512 240,512"/>
</g>
<polyline fill="none" stroke="#f09010" stroke-width="2" points="137,475 150,468 170,466 180,466 190,470 200,470 215,474 225,474 235,471 248,470"/>
<rect x="137" y="436" width="111" height="78" fill="none" stroke="#333" stroke-width="1.5"/>
<g font-size="12.5"><g fill="#000" text-anchor="end"><text x="131" y="441">15.0</text><text x="131" y="460">7.0</text><text x="131" y="479">2.0</text><text x="131" y="499">0.5</text><text x="131" y="518">0.0</text></g><g fill="#f09010"><text x="252" y="441">100</text><text x="252" y="460">20</text><text x="252" y="479">5</text><text x="252" y="499">1</text><text x="252" y="518">0</text></g></g>
<rect x="137" y="523" width="111" height="78" fill="#87d0fa"/>
<polygon fill="#ffffff" points="160,601 175,575 185,560 195,548 205,538 212,530 230,523 248,523 248,601"/>
<polygon fill="#a0a0a0" points="160,601 170,590 180,570 195,555 205,540 215,530 225,535 235,525 240,535 248,540 248,601"/>
<polygon fill="#707070" points="137,601 137,585 145,570 152,578 160,585 170,595 175,601"/>
<polygon fill="#606060" points="175,601 185,590 200,585 205,570 210,560 220,545 228,538 235,545 240,560 248,575 248,601"/>
<polygon fill="#404040" points="137,601 140,592 150,590 160,598 165,601"/>
<rect x="137" y="523" width="111" height="78" fill="url(#vgm)"/>
<g stroke="#000" stroke-dasharray="2,2"><line x1="137" y1="543" x2="248" y2="543"/><line x1="137" y1="562" x2="248" y2="562"/><line x1="137" y1="582" x2="248" y2="582"/></g>
<path stroke="#f0b000" stroke-width="3" d="M219 601v-12M226 601v-12M232 601v-12M240 601v-12"/>
<rect x="137" y="523" width="111" height="78" fill="none" stroke="#333" stroke-width="1.5"/>
<g font-size="12.5"><g fill="#000" text-anchor="end"><text x="131" y="528">8</text><text x="131" y="548">6</text><text x="131" y="567">4</text><text x="131" y="587">2</text><text x="131" y="605">0</text></g><g fill="#f09010"><text x="252" y="528">1</text><text x="252" y="548">0.75</text><text x="252" y="567">0.5</text><text x="252" y="587">0.25</text><text x="252" y="605">0</text></g></g>

<g font-size="12">
<text x="5" y="19" fill="#000">Czas lokalny</text><text x="5" y="31" fill="#000">(CET/CEST)</text>
<path d="M70 16H135L158 40" stroke="#000" fill="none"/>
<text x="5" y="47" fill="#a01818">Temperatura gruntu</text><text x="28" y="58" fill="#a01818">max/min</text>
<path d="M102 44H120L150 80" stroke="#a01818" fill="none"/>
<text x="5" y="68" fill="#000">Temperatura:</text>
<text x="12" y="81" fill="#e81010">punkt środkowy</text><path d="M93 77H113" stroke="#e81010"/>
<text x="28" y="92" fill="#f8c8c0">max/min</text>
<text x="10" y="103" fill="#1020e0">odczuwana</text><path d="M72 99H125" stroke="#1020e0"/>
<text x="28" y="114" fill="#a8dcfa">max/min</text>
<text x="5" y="125" fill="#7060e0">Temp. punktu rosy</text><path d="M105 121H137" stroke="#7060e0"/>
<text x="5" y="142" fill="#e81010">Opad powyżej skali</text><path d="M105 138H144V145" stroke="#e81010" fill="none"/>
<text x="5" y="156" fill="#e85010">Wilgotność względna</text><path d="M112 152H120" stroke="#e85010"/>
<text x="5" y="170" fill="#000">Wystąpienie burzy</text><path d="M102 166H120" stroke="#000"/>
<text x="5" y="184" fill="#00a000">Deszcz: max</text><path d="M73 180H138" stroke="#00a000"/>
<text x="48" y="195" fill="#00a000">średni</text><path d="M82 191H120" stroke="#00a000"/>
<text x="5" y="206" fill="#1020e0">Śnieg:</text><text x="48" y="206" fill="#1020e0">max</text><path d="M73 202H112" stroke="#1020e0"/>
<text x="48" y="217" fill="#1020e0">średni</text><path d="M82 213H150L160 200" stroke="#1020e0" fill="none"/>
<text x="5" y="230" fill="#e81010">Wystąpienie opadu</text><text x="5" y="242" fill="#e81010">konwekcyjnego</text><path d="M100 226H140L146 220" stroke="#e81010" fill="none"/>
<text x="5" y="269" fill="#000">Ciśnienie</text><path d="M55 265H134" stroke="#000"/>
<text x="5" y="282" fill="#000">zredukowane</text><text x="5" y="295" fill="#000">do poziomu morza</text>
<text x="5" y="322" fill="#000">Wiatr na 10m:</text>
<text x="10" y="338" fill="#e81010">poryw powyżej skali</text>
<text x="10" y="352" fill="#e81010">max porywy wiatru</text><path d="M106 348H130L143 341" stroke="#e81010" fill="none"/>
<text x="10" y="372" fill="#1c1c9c">prędkość wiatru</text><text x="10" y="385" fill="#1c1c9c">w środku obszaru</text><path d="M92 368H137" stroke="#1c1c9c"/>
<text x="10" y="413" fill="#1c1c9c">kierunek wiatru</text><path d="M85 410H140" stroke="#1c1c9c"/>
<text x="5" y="433" fill="#a01818">Wierzchołek chmur</text><path d="M102 430L180 447" stroke="#a01818" fill="none"/>
<text x="5" y="448" fill="#000">Podstawa chmur*</text><text x="5" y="461" fill="#000">o pokryciu</text>
<text x="12" y="473" fill="#000">&gt; 7.9 okt.</text><path d="M70 469H135L192 457" stroke="#000" fill="none"/>
<text x="12" y="486" fill="#555">&gt; 6.5 okt.</text><path d="M70 482H144" stroke="#555"/>
<text x="12" y="499" fill="#999">&gt; 4.5 okt.</text><path d="M70 495H137" stroke="#999"/>
<text x="12" y="512" fill="#ccc">&gt; 2.5 okt.</text>
<rect x="10" y="503" width="55" height="13" fill="#87d0fa"/><text x="12" y="514" fill="#fff">&gt; 0.1 okt.</text><path d="M66 511H137" stroke="#87d0fa" stroke-width="2"/>
<text x="5" y="530" fill="#f09010">Widzialność</text><path d="M68 526H128L175 470" stroke="#f09010" fill="none"/>
<text x="5" y="546" fill="#000">Chmury:</text>
<rect x="9" y="549" width="45" height="13" fill="#87d0fa"/><text x="10" y="560" fill="#fff">wysokie</text><path d="M55 556H185" stroke="#87d0fa" stroke-width="2"/>
<text x="10" y="573" fill="#999">średnie</text><path d="M55 569H190" stroke="#999"/>
<text x="10" y="585" fill="#444">niskie</text><path d="M48 581H137" stroke="#444"/>
<text x="10" y="597" fill="#000">bardzo niskie</text><path d="M75 593H137" stroke="#000"/>
<text x="5" y="608" fill="#f0b000">Mgła</text><path d="M30 604H215L219 598" stroke="#f0b000" fill="none"/>
<text x="5" y="627" fill="#000" font-size="13">Czas uniwersalny (UTC)</text><path d="M140 623H150L158 610" stroke="#000" fill="none"/>
</g>
</svg>
</body></html>
